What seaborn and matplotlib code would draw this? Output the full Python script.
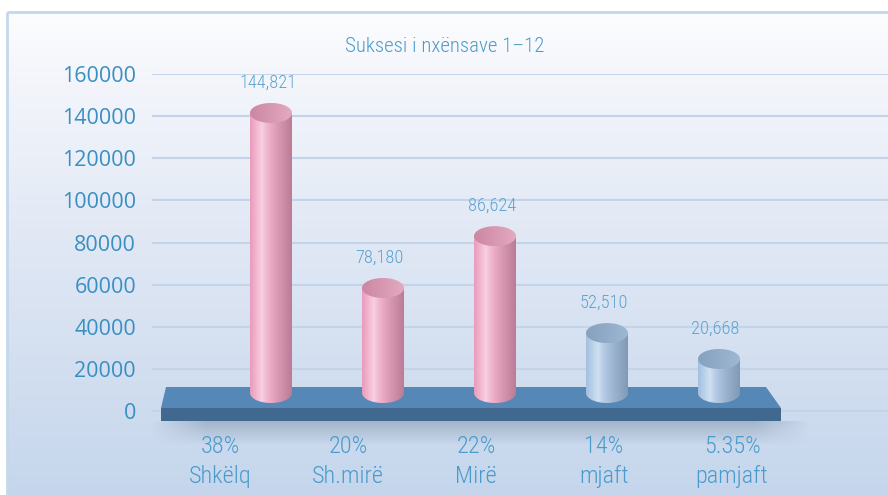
import matplotlib
matplotlib.use("Agg")
import matplotlib.pyplot as plt
import seaborn as sns
import numpy as np
import pandas as pd
from matplotlib import font_manager
from matplotlib.patches import Ellipse, Polygon, Rectangle
from matplotlib.colors import LinearSegmentedColormap

# --- du lieu ---
categories = ["Shkëlq", "Sh.mirë", "Mirë", "mjaft", "pamjaft"]
bar_heights = [141500, 58400, 83000, 37000, 24700]      # doc tu truc y
value_labels = ["144,821", "78,180", "86,624", "52,510", "20,668"]
percent_labels = ["38%", "20%", "22%", "14%", "5.35%"]
bar_groups = ["pink", "pink", "pink", "blue", "blue"]
y_ticks = [0, 20000, 40000, 60000, 80000, 100000, 120000, 140000, 160000]
title = "Suksesi i nxënsave 1–12"

# --- bo cuc (pixel) ---
W, H = 888, 495
Y0_PX, YTOP_PX = 411, 74          # vi tri 0 va 160000
PER = 160000 / (Y0_PX - YTOP_PX)  # don vi / pixel
STEP = 112                        # khoang cach cot (pixel)
C2_PX = 495                       # tam cot thu 3


def dx(px):
    return (px - C2_PX) / STEP + 2


def dy(py):
    return (Y0_PX - py) * PER


names = {f.name for f in font_manager.fontManager.ttflist}
NARROW = "DejaVu Sans"
for cand in ["Liberation Sans Narrow", "Roboto Condensed", "Open Sans Condensed"]:
    if cand in names:
        NARROW = cand
        break
TICKFONT = "Open Sans" if "Open Sans" in names else "DejaVu Sans"
NFONT = dict(family=[NARROW, "DejaVu Sans"], fontstretch="condensed", fontweight="light")

sns.set_style("white")
plt.rcParams["font.family"] = [NARROW, "DejaVu Sans"]

fig = plt.figure(figsize=(W / 100, H / 100), dpi=100)

# nen gradient + khung
bg = fig.add_axes([0, 0, 1, 1], zorder=-5)
bg.axis("off")
bg_cmap = LinearSegmentedColormap.from_list(
    "bg", [(0, "#fcfdfe"), (0.15, "#f3f5fb"), (0.5, "#dfe7f4"), (1, "#c5d6ec")])
bg.imshow(np.linspace(0, 1, 256).reshape(-1, 1), cmap=bg_cmap, aspect="auto",
          extent=(7, W, H, 12))
bg.add_patch(Rectangle((7, 12), W, H, fill=False, edgecolor="#c3d8ec", lw=2))
bg.set_xlim(0, W)
bg.set_ylim(H, 0)

# truc chinh
ax = fig.add_axes([152 / W, 0, (W - 152) / W, (H - YTOP_PX) / H])
ax.patch.set_alpha(0)

df = pd.DataFrame({"cat": categories, "h": bar_heights})
pal = {"pink": "#efb0c8", "blue": "#b0c8e4"}
sns.barplot(data=df, x="cat", y="h", hue="cat", ax=ax, width=0.375,
            palette=[pal[g] for g in bar_groups], legend=False, zorder=3)

body_stops = {
    "pink": [(0, "#e99bbb"), (0.28, "#f8cfe1"), (0.42, "#f0b4cc"), (0.7, "#d596ae"), (1, "#bd7c95")],
    "blue": [(0, "#a3bfdf"), (0.28, "#cfe0f2"), (0.42, "#b5cbe4"), (0.7, "#97b0cc"), (1, "#8199b4")],
}
top_stops = {
    "pink": [(0, "#cc87a2"), (0.6, "#da9bb4"), (1, "#e3aac1")],
    "blue": [(0, "#86a2bf"), (0.6, "#94aecb"), (1, "#a0b8d1")],
}
grad = np.linspace(0, 1, 128).reshape(1, -1)

BASE = dy(393)
RY = 10 * PER

for i, p in enumerate(ax.patches[:len(categories)]):
    g = bar_groups[i]
    h = bar_heights[i]
    x0, w = p.get_x(), p.get_width()
    xc = x0 + w / 2
    p.set_y(BASE)
    p.set_height(h - BASE)
    p.set_facecolor("none")
    p.set_edgecolor("none")
    cm_body = LinearSegmentedColormap.from_list("b%d" % i, body_stops[g])
    cm_top = LinearSegmentedColormap.from_list("t%d" % i, top_stops[g])

    # than tru
    im = ax.imshow(grad, cmap=cm_body, aspect="auto", extent=(x0, x0 + w, BASE, h), zorder=3)
    im.set_clip_path(p)
    # day elip
    e_bot = Ellipse((xc, BASE), w, 2 * RY, facecolor="none", edgecolor="none")
    ax.add_patch(e_bot)
    im2 = ax.imshow(grad, cmap=cm_body, aspect="auto",
                    extent=(x0, x0 + w, BASE - RY, BASE), zorder=3)
    im2.set_clip_path(e_bot)
    # nap elip
    e_top = Ellipse((xc, h), w, 2 * RY, facecolor="none", edgecolor="none")
    ax.add_patch(e_top)
    im3 = ax.imshow(grad, cmap=cm_top, aspect="auto",
                    extent=(x0, x0 + w, h - RY, h + RY), zorder=4)
    im3.set_clip_path(e_top)

    ax.annotate(value_labels[i], (xc - 0.03, h), xytext=(0, 22), textcoords="offset points",
                ha="center", va="center", fontsize=13.2, color="#5ba3d0", **NFONT)

# san (3D floor)
top_face = Polygon([(dx(166), dy(387)), (dx(766), dy(387)), (dx(781), dy(408)), (dx(161), dy(408))],
                   closed=True, facecolor="#5688b7", edgecolor="none", zorder=2)
front_face = Rectangle((dx(161), dy(421)), dx(781) - dx(161), dy(408) - dy(421),
                       facecolor="#41688f", edgecolor="none", zorder=2)
ax.add_patch(top_face)
ax.add_patch(front_face)

# bong
sh = np.zeros((40, 200, 4))
sh[..., 0], sh[..., 1], sh[..., 2] = 0.45, 0.52, 0.62
va = np.linspace(0.45, 0, 40).reshape(-1, 1)
ha = np.clip(np.linspace(12, 0, 200), 0, 1).reshape(1, -1) * np.clip(np.linspace(0, 12, 200), 0, 1).reshape(1, -1)
sh[..., 3] = va * ha
ax.imshow(sh, aspect="auto", extent=(dx(150), dx(810), dy(446), dy(421)), zorder=1.5,
          interpolation="bilinear")

# nhan danh muc
for i, (pc, cat) in enumerate(zip(percent_labels, categories)):
    ax.text(dx(220) + i * 128 / STEP, dy(461.5), pc + "\n" + cat, ha="center", va="center",
            fontsize=17.5, color="#4a9bcc", linespacing=1.36, **NFONT)

ax.set_xlim(dx(152), dx(W))
ax.set_ylim(dy(H), 160000)
ax.set_yticks(y_ticks)
ax.set_yticklabels([str(v) for v in y_ticks], fontsize=15.5, color="#3a8fc2",
                   family=[TICKFONT, "DejaVu Sans"])
ax.tick_params(axis="y", length=0, pad=11.5)
ax.set_xticks([])
ax.set_xlabel("")
ax.set_ylabel("")
ax.yaxis.grid(True, color="#c3d4e8", lw=1.5, zorder=0)
ax.xaxis.grid(False)
ax.set_axisbelow(True)
for s in ax.spines.values():
    s.set_visible(False)

fig.text(445 / W, 1 - 47 / H, title, ha="center", va="center", fontsize=15,
         color="#4b9bcb", **NFONT)

fig.savefig("out.png", dpi=100)
plt.close(fig)
